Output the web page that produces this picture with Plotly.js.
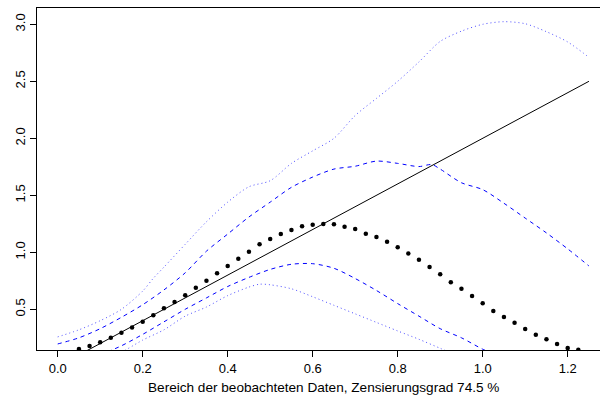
<!DOCTYPE html>
<html><head><meta charset="utf-8">
<script src="https://cdn.plot.ly/plotly-3.0.1.min.js"></script>
<style>html,body{margin:0;padding:0;background:#fff}#plot{width:600px;height:400px}</style>
</head><body><div id="plot"></div>
<script>
// Reference line (y = 2x)
const lineX = [0, 1.25];
const lineY = [0, 2.5];

// Black dots
const dotX = [0,0.025,0.05,0.075,0.1,0.125,0.15,0.175,0.2,0.225,0.25,0.275,0.3,0.325,0.35,0.375,0.4,0.425,0.45,0.475,0.5,0.525,0.55,0.575,0.6,0.625,0.65,0.675,0.7,0.725,0.75,0.775,0.8,0.825,0.85,0.875,0.9,0.925,0.95,0.975,1.0,1.025,1.05,1.075,1.1,1.125,1.15,1.175,1.2,1.225,1.25];
const dotY = [0.08,0.115,0.152,0.178,0.21,0.25,0.295,0.34,0.39,0.447,0.509,0.564,0.623,0.69,0.751,0.816,0.88,0.944,1.005,1.07,1.117,1.16,1.196,1.228,1.242,1.248,1.246,1.225,1.204,1.163,1.134,1.093,1.044,0.99,0.934,0.872,0.808,0.738,0.681,0.617,0.553,0.485,0.432,0.382,0.327,0.277,0.237,0.196,0.16,0.145,0.12];

// Upper dotted band
const upDotX = [0,0.05,0.1,0.15,0.2,0.225,0.25,0.3,0.35,0.4,0.45,0.5,0.55,0.6,0.65,0.7,0.75,0.8,0.85,0.9,0.95,1.0,1.05,1.1,1.15,1.2,1.25];
const upDotY = [0.258,0.32,0.40,0.50,0.66,0.772,0.87,1.07,1.268,1.44,1.575,1.628,1.78,1.89,2.00,2.20,2.35,2.50,2.67,2.85,2.94,3.0,3.023,3.005,2.935,2.845,2.71];

// Upper dashed band
const upDashX = [0,0.05,0.1,0.15,0.2,0.25,0.3,0.35,0.4,0.45,0.5,0.55,0.6,0.65,0.7,0.75,0.8,0.85,0.88,0.9,0.95,1.0,1.05,1.1,1.15,1.2,1.25];
const upDashY = [0.196,0.25,0.33,0.43,0.54,0.67,0.82,1.01,1.16,1.31,1.44,1.57,1.66,1.73,1.755,1.80,1.78,1.752,1.77,1.73,1.61,1.55,1.43,1.30,1.17,1.03,0.88];

// Lower dashed band
const lowDashX = [0.1,0.15,0.2,0.25,0.3,0.35,0.4,0.45,0.5,0.55,0.6,0.65,0.7,0.75,0.8,0.85,0.9,0.95,1.0,1.05];
const lowDashY = [0.10,0.18,0.28,0.39,0.50,0.60,0.70,0.78,0.85,0.895,0.90,0.86,0.77,0.665,0.55,0.44,0.33,0.25,0.15,0.07];

// Lower dotted band
const lowDotX = [0.15,0.2,0.25,0.3,0.35,0.4,0.45,0.475,0.5,0.55,0.6,0.65,0.7,0.75,0.8,0.85,0.9,0.95];
const lowDotY = [0.12,0.23,0.32,0.44,0.52,0.62,0.695,0.72,0.715,0.68,0.61,0.535,0.46,0.385,0.31,0.237,0.158,0.08];

const xTicks = [0,0.2,0.4,0.6,0.8,1.0,1.2];
const xTickText = ['0.0','0.2','0.4','0.6','0.8','1.0','1.2'];
const yTicks = [0.5,1.0,1.5,2.0,2.5,3.0];
const yTickText = ['0.5','1.0','1.5','2.0','2.5','3.0'];
const xTitle = 'Bereich der beobachteten Daten, Zensierungsgrad 74.5 %';

const blue = '#0000ff';
const traces = [
  {x: upDotX, y: upDotY, mode:'lines', line:{color:'#4d4dff', width:1, dash:'1px,3px', shape:'spline', smoothing:0.8}, hoverinfo:'skip'},
  {x: upDashX, y: upDashY, mode:'lines', line:{color:blue, width:1, dash:'4px,4px', shape:'spline', smoothing:0.8}, hoverinfo:'skip'},
  {x: lowDashX, y: lowDashY, mode:'lines', line:{color:blue, width:1, dash:'4px,4px', shape:'spline', smoothing:0.8}, hoverinfo:'skip'},
  {x: lowDotX, y: lowDotY, mode:'lines', line:{color:'#4d4dff', width:1, dash:'1px,3px', shape:'spline', smoothing:0.8}, hoverinfo:'skip'},
  {x: lineX, y: lineY, mode:'lines', line:{color:'#000', width:1}, hoverinfo:'skip'},
  {x: dotX, y: dotY, mode:'markers', marker:{color:'#000', size:4.5}, hoverinfo:'skip'}
];

const font = {family:'"Liberation Sans", Arial, sans-serif', size:13, color:'#000'};
const titleFont = {family:'"Liberation Sans", Arial, sans-serif', size:13.6, color:'#000'};
const layout = {
  width:600, height:400,
  margin:{l:37, r:0, t:8, b:50},
  paper_bgcolor:'#fff', plot_bgcolor:'#fff',
  showlegend:false,
  font: font,
  xaxis:{range:[-0.0487,1.276], tickvals:xTicks, ticktext:xTickText, ticks:'outside', ticklen:6, tickcolor:'#000',
         showline:true, linecolor:'#000', linewidth:1, mirror:true, showgrid:false, zeroline:false, tickfont:font},
  yaxis:{range:[0.143,3.143], tickvals:yTicks, ticktext:yTickText, ticks:'outside', ticklen:6, tickcolor:'#000',
         tickangle:-90, showline:true, linecolor:'#000', linewidth:1, showgrid:false, zeroline:false, tickfont:font},
  annotations:[{text:xTitle, x:0.625, xref:'x', y:-0.111, yref:'paper', xanchor:'center', yanchor:'middle', showarrow:false, font:titleFont}]
};
Plotly.newPlot('plot', traces, layout, {staticPlot:true});
</script></body></html>
